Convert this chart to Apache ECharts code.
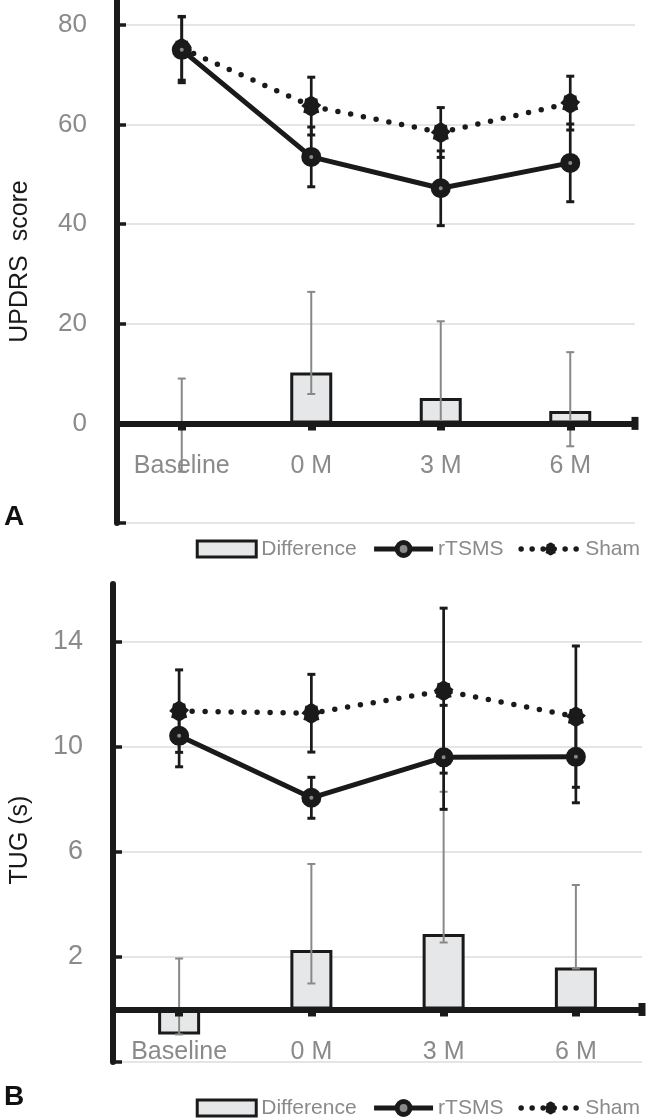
<!DOCTYPE html>
<html>
<head>
<meta charset="utf-8">
<script src="https://cdn.jsdelivr.net/npm/echarts@6/dist/echarts.min.js"></script>
<style>
html,body{margin:0;padding:0;background:#fff;}
#chart{width:649px;height:1120px;}
</style>
</head>
<body>
<div id="chart"></div>
<script>
// ---- data ----
const categories = ['Baseline', '0 M', '3 M', '6 M'];

// Panel A: UPDRS score
const updrsTicks = [-20, 0, 20, 40, 60, 80];
const updrsLabels = [0, 20, 40, 60, 80];
const updrsRtsms = [75.0, 53.5, 47.2, 52.3];
const updrsRtsmsErr = [6.6, 6.0, 7.5, 7.8];
const updrsSham = [75.3, 63.7, 58.4, 64.3];
const updrsShamErr = [6.4, 5.8, 5.0, 5.4];
const updrsDiff = [-0.3, 10.2, 5.1, 2.5];
const updrsDiffLow = [-9.7, 5.9, 0.3, -4.6];
const updrsDiffHigh = [9.0, 26.4, 20.5, 14.3];

// Panel B: TUG (s)
const tugTicks = [-2, 2, 6, 10, 14];
const tugLabels = [2, 6, 10, 14];
const tugRtsms = [10.42, 8.06, 9.60, 9.62];
const tugRtsmsErr = [1.18, 0.78, 1.98, 1.75];
const tugSham = [11.36, 11.28, 12.14, 11.15];
const tugShamErr = [1.57, 1.48, 3.14, 2.69];
const tugDiff = [-0.95, 2.26, 2.87, 1.60];
const tugDiffLow = [-0.95, 0.99, 2.55, 1.56];
const tugDiffHigh = [1.94, 5.54, 8.29, 4.74];

// ---- helpers ----
const GRAY_TXT = '#8a8a8a';
const INK = '#1a1a1a';
const FONT = 'Liberation Sans, Arial, Helvetica, sans-serif';
const shamSymbol = 'path://M0,-9 C3,-9 4,-6 6,-7 L7,-3 L10,-1 L7,2 L8,6 C5,6 3,9 0,9 C-3,9 -5,6 -8,6 L-7,2 L-10,0 L-7,-3 L-6,-7 C-4,-6 -3,-9 0,-9 Z';

function errData(low, high) {
  return low.map((l, i) => [i, l, high[i]]);
}
function symErrData(mean, err) {
  return mean.map((m, i) => [i, m - err[i], m + err[i]]);
}
function errRender(color, lw, capW, capHalf) {
  return function (params, api) {
    const i = api.value(0);
    const lo = api.coord([i, api.value(1)]);
    const hi = api.coord([i, api.value(2)]);
    const s = { stroke: color, lineWidth: lw, fill: null };
    const c = { stroke: color, lineWidth: capW, fill: null };
    return {
      type: 'group',
      children: [
        { type: 'line', shape: { x1: lo[0], y1: lo[1], x2: hi[0], y2: hi[1] }, style: s },
        { type: 'line', shape: { x1: lo[0] - capHalf, y1: lo[1], x2: lo[0] + capHalf, y2: lo[1] }, style: c },
        { type: 'line', shape: { x1: hi[0] - capHalf, y1: hi[1], x2: hi[0] + capHalf, y2: hi[1] }, style: c }
      ]
    };
  };
}

function xAxisCfg(gi) {
  return {
    type: 'category', gridIndex: gi, data: categories, z: 5,
    boundaryGap: true, offset: 0,
    axisLine: { onZero: false, lineStyle: { color: INK, width: 6 },
      symbol: ['none', 'rect'], symbolSize: [13, 7] },
    axisTick: { show: true, alignWithLabel: true, length: 7, lineStyle: { color: INK, width: 8 } },
    axisLabel: { color: GRAY_TXT, fontSize: 25, fontFamily: FONT, margin: 30 },
    splitLine: { show: false }
  };
}
function yAxisCfg(gi, min, max, ticks, labels, name, nameGap, namePad, labelSize) {
  return {
    type: 'value', gridIndex: gi, min: min, max: max,
    name: name, nameLocation: 'middle', nameGap: nameGap,
    nameTextStyle: { color: INK, fontSize: 25, fontFamily: FONT, padding: namePad },
    axisLine: { show: true, onZero: false, lineStyle: { color: INK, width: 6 } },
    axisTick: { show: true, inside: true, length: 9, customValues: ticks, lineStyle: { color: INK, width: 3.5 } },
    axisLabel: { color: GRAY_TXT, fontSize: labelSize, fontFamily: FONT, margin: 30, customValues: labels },
    splitLine: { show: true, lineStyle: { color: '#dcdcdc', width: 1.5 } }
  };
}
function panelSeries(gi, diff, dLow, dHigh, rt, rtErr, sh, shErr) {
  return [
    {
      name: 'Difference', type: 'bar', xAxisIndex: gi, yAxisIndex: gi, data: diff,
      barWidth: 42, z: 2,
      itemStyle: { color: '#e6e7e8', borderColor: INK, borderWidth: 3 }
    },
    {
      name: 'diffErr' + gi, type: 'custom', xAxisIndex: gi, yAxisIndex: gi,
      data: errData(dLow, dHigh), z: 3, silent: true,
      renderItem: errRender('#888888', 2, 2, 4)
    },
    {
      name: 'lineErr' + gi, type: 'custom', xAxisIndex: gi, yAxisIndex: gi,
      data: symErrData(sh, shErr).concat(symErrData(rt, rtErr)), z: 4, silent: true,
      renderItem: errRender(INK, 2.7, 3, 4)
    },
    {
      name: 'Sham', type: 'line', xAxisIndex: gi, yAxisIndex: gi, data: sh, z: 5,
      symbol: shamSymbol, symbolSize: 20,
      lineStyle: { color: INK, width: 5.5, type: [0, 13], cap: 'round' },
      itemStyle: { color: INK }
    },
    {
      name: 'rTSMS', type: 'line', xAxisIndex: gi, yAxisIndex: gi, data: rt, z: 6,
      symbol: 'circle', symbolSize: 12,
      lineStyle: { color: INK, width: 5 },
      itemStyle: { color: '#8a8a8a', borderColor: INK, borderWidth: 8 }
    }
  ];
}
function legendCfg(top) {
  return {
    data: [
      { name: 'Difference', icon: 'rect', itemStyle: { color: '#e6e7e8', borderColor: INK, borderWidth: 3 } },
      { name: 'rTSMS', lineStyle: { width: 5, color: INK }, itemStyle: { color: '#8a8a8a', borderColor: INK, borderWidth: 5 } },
      { name: 'Sham', lineStyle: { width: 5.5, color: INK, type: [0, 11], cap: 'round' }, itemStyle: { color: INK } }
    ],
    right: 9, top: top, padding: 0, itemGap: 15,
    itemWidth: 59, itemHeight: 16,
    textStyle: { color: GRAY_TXT, fontSize: 21, fontFamily: FONT, lineHeight: 22 }
  };
}

const chart = echarts.init(document.getElementById('chart'), null, { renderer: 'canvas' });
chart.setOption({
  animation: false,
  backgroundColor: '#fff',
  grid: [
    { left: 115, right: 14, top: 0, bottom: 597 },
    { left: 110, right: 7, top: 584, bottom: 58 }
  ],
  xAxis: [xAxisCfg(0), xAxisCfg(1)],
  yAxis: [
    yAxisCfg(0, -20, 85, updrsTicks, updrsLabels, 'UPDRS  score', 84, [0, 0, 0, 0], 26),
    yAxisCfg(1, -2, 16.2, tugTicks, tugLabels, 'TUG (s)', 80, [0, 34, 0, 0], 27)
  ],
  legend: [legendCfg(538), legendCfg(1097)],
  graphic: [
    { type: 'text', left: 4, top: 503, style: { text: 'A', font: 'bold 28px ' + FONT, fill: '#111' } },
    { type: 'text', left: 4, top: 1083, style: { text: 'B', font: 'bold 28px ' + FONT, fill: '#111' } }
  ],
  series: panelSeries(0, updrsDiff, updrsDiffLow, updrsDiffHigh, updrsRtsms, updrsRtsmsErr, updrsSham, updrsShamErr)
    .concat(panelSeries(1, tugDiff, tugDiffLow, tugDiffHigh, tugRtsms, tugRtsmsErr, tugSham, tugShamErr))
});

// Move each category axis (line, ticks, labels) up to the value 0 of its panel.
const off0 = chart.convertToPixel({ yAxisIndex: 0 }, 0) - chart.convertToPixel({ yAxisIndex: 0 }, updrsTicks[0]);
const off1 = chart.convertToPixel({ yAxisIndex: 1 }, 0) - chart.convertToPixel({ yAxisIndex: 1 }, tugTicks[0]);
chart.setOption({ xAxis: [{ offset: off0 }, { offset: off1 }] });
</script>
</body>
</html>
